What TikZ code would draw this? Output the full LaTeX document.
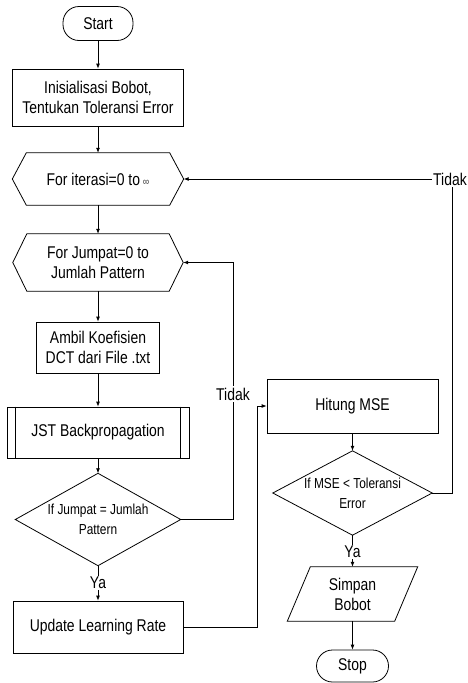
\documentclass[tikz,border=0pt]{standalone}
\usepackage{fontspec}
\setmainfont{Liberation Sans}[FakeStretch=0.82]
\usetikzlibrary{arrows.meta}
\tikzset{
  ln/.style={line width=0.8pt},
  arr/.style={ln, -{Latex[length=5pt,width=4pt]}},
  shp/.style={inner sep=0pt, align=center, font=\fontsize{17}{20}\selectfont},
  boxn/.style={shp, draw, ln},
  term/.style={shp, draw, ln, rounded corners=16pt},
  lbl/.style={fill=white, inner sep=1.5pt, font=\fontsize{17}{20}\selectfont},
  smalltxt/.style={font=\fontsize{14.5}{20}\selectfont},
}
\begin{document}
\begin{tikzpicture}[x=1pt,y=-1pt]
\useasboundingbox (0,0) rectangle (467,683);

% left column
\node[term, minimum width=70pt, minimum height=34pt] (start) at (98,23.5) {Start};
\node[boxn, minimum width=171pt, minimum height=57pt] (init) at (98,97.5) {Inisialisasi Bobot,\\Tentukan Toleransi Error};
\node[shp, minimum width=171pt, minimum height=52pt] (hex1) at (98,179) {For iterasi=0 to\,{\fontsize{11}{20}\selectfont\color{black!75}∞}};
\draw[ln] ([xshift=14pt]hex1.north west) -- ([xshift=-14pt]hex1.north east) -- (hex1.east) -- ([xshift=-14pt]hex1.south east) -- ([xshift=14pt]hex1.south west) -- (hex1.west) -- cycle;
\node[shp, minimum width=170pt, minimum height=57pt] (hex2) at (98,262.5) {For Jumpat=0 to\\Jumlah Pattern};
\draw[ln] ([xshift=14pt]hex2.north west) -- ([xshift=-14pt]hex2.north east) -- (hex2.east) -- ([xshift=-14pt]hex2.south east) -- ([xshift=14pt]hex2.south west) -- (hex2.west) -- cycle;
\node[boxn, minimum width=123pt, minimum height=51pt] (ambil) at (98,347.5) {Ambil Koefisien\\DCT dari File .txt};
\node[boxn, minimum width=182pt, minimum height=51pt] (jst) at (98,432.5) {JST Backpropagation};
\draw[ln] ([xshift=9pt]jst.north west) -- ([xshift=9pt]jst.south west);
\draw[ln] ([xshift=-9pt]jst.north east) -- ([xshift=-9pt]jst.south east);
\node[shp, smalltxt, minimum width=165pt, minimum height=92pt] (dec1) at (98,519.5) {If Jumpat = Jumlah\\Pattern};
\draw[ln] (dec1.north) -- (dec1.east) -- (dec1.south) -- (dec1.west) -- cycle;
\node[boxn, minimum width=170pt, minimum height=52pt] (upd) at (98,627) {Update Learning Rate};

% right column
\node[boxn, minimum width=171pt, minimum height=54pt] (hit) at (352.5,406) {Hitung MSE};
\node[shp, smalltxt, minimum width=159pt, minimum height=84pt] (dec2) at (352.5,493) {If MSE < Toleransi\\Error};
\draw[ln] (dec2.north) -- (dec2.east) -- (dec2.south) -- (dec2.west) -- cycle;
\node[shp, minimum width=130pt, minimum height=54pt] (simpan) at (352.5,594) {Simpan\\Bobot};
\draw[ln] ([xshift=23pt]simpan.north west) -- (simpan.north east) -- ([xshift=-23pt]simpan.south east) -- (simpan.south west) -- cycle;
\node[term, minimum width=72pt, minimum height=32pt] (stop) at (352.5,666) {Stop};

% connectors
\draw[arr] (start) -- (init);
\draw[arr] (init) -- (hex1);
\draw[arr] (hex1) -- (hex2);
\draw[arr] (hex2) -- (ambil);
\draw[arr] (ambil) -- (jst);
\draw[arr] (jst) -- (dec1.north);
\draw[arr] (dec1.south) -- (upd.north);
\node[lbl] (ya1) at (98,583) {Ya};

\coordinate (c1) at (233,519.5);
\draw[arr] (dec1.east) -- (c1) |- (hex2.east);
\node[lbl] (tidak1) at (233,394) {Tidak};

\coordinate (c2) at (257,627);
\draw[arr] (upd.east) -- (c2) |- (hit.west);

\draw[arr] (hit) -- (dec2.north);
\draw[arr] (dec2.south) -- (simpan.north);
\node[lbl] (ya2) at (352.5,552) {Ya};
\draw[arr] (simpan.south) -- (stop.north);

\coordinate (c3) at (452,493);
\draw[arr] (dec2.east) -- (c3) |- (hex1.east);
\node[lbl] (tidak2) at (450,179) {Tidak};
\end{tikzpicture}
\end{document}
